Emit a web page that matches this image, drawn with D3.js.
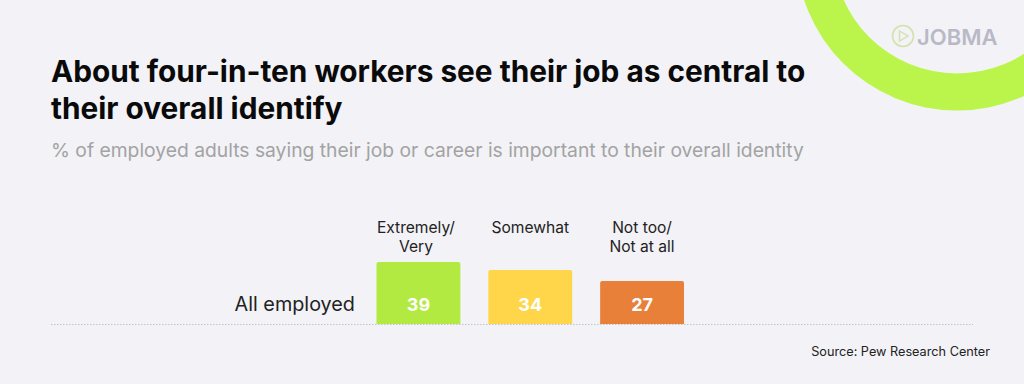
<!DOCTYPE html>
<html>
<head>
<meta charset="utf-8">
<script src="https://cdn.jsdelivr.net/npm/d3@7"></script>
<style>
  html, body { margin: 0; padding: 0; background: #f2f2f7; }
  svg { display: block; }
  text { font-family: Inter, "Noto Sans", sans-serif; }
</style>
</head>
<body>
<svg id="chart" width="1024" height="384"></svg>
<script>
var titleLines = ['About four-in-ten workers see their job as central to', 'their overall identify'];
var subtitle = '% of employed adults saying their job or career is important to their overall identity';
var source = 'Source: Pew Research Center';
var rowLabel = 'All employed';
var categories = ['Extremely/|Very', 'Somewhat', 'Not too/|Not at all'];
var values = [39, 34, 27];
var colors = ['#b2ea41', '#ffd64a', '#e98039'];

var svg = d3.select('#chart');

// ring + logo in the corner
var ring = d3.arc().innerRadius(124).outerRadius(161).startAngle(0).endAngle(2 * Math.PI);
svg.append('path')
  .attr('transform', 'translate(957,-50.5)')
  .attr('d', ring())
  .attr('fill', '#bbf54b');

var logo = svg.append('g').attr('transform', 'translate(903,36)');
logo.append('circle').attr('r', 10.5).attr('fill', 'none').attr('stroke', '#d3e2ab').attr('stroke-width', 1.6);
logo.append('path').attr('d', 'M-3.5,-5 L5,0 L-3.5,5 Z').attr('fill', 'none').attr('stroke', '#d3e2ab').attr('stroke-width', 1.4);
svg.append('text').attr('x', 917).attr('y', 45).attr('font-size', 22).attr('font-weight', 600)
  .attr('fill', '#b9b9c6').text('JOBMA');

// headings
svg.selectAll('.title').data(titleLines).enter().append('text')
  .attr('class', 'title')
  .attr('x', 51)
  .attr('y', function (d, i) { return 81.5 + i * 37.5; })
  .attr('font-size', 29.8)
  .attr('font-weight', 700)
  .attr('fill', '#0a0a0a')
  .text(function (d) { return d; });

svg.append('text').attr('x', 51).attr('y', 157).attr('font-size', 19.3)
  .attr('fill', '#a3a3a3').text(subtitle);

// bars
var baseline = 324;
var x = d3.scaleBand().domain(categories).range([376.5, 684]).paddingInner(0.25).paddingOuter(0);
var y = d3.scaleLinear().domain([0, 39]).range([baseline, 262]);

svg.append('line')
  .attr('x1', 51).attr('x2', 973).attr('y1', baseline + 0.5).attr('y2', baseline + 0.5)
  .attr('stroke', '#c4c4c4').attr('stroke-width', 1).attr('stroke-dasharray', '1.5 1.5');

svg.selectAll('.bar').data(values).enter().append('path')
  .attr('class', 'bar')
  .attr('fill', function (d, i) { return colors[i]; })
  .attr('d', function (d, i) {
    var x0 = x(categories[i]), w = x.bandwidth(), t = y(d), r = 2;
    return 'M' + x0 + ',' + baseline + 'V' + (t + r) + 'Q' + x0 + ',' + t + ' ' + (x0 + r) + ',' + t +
      'H' + (x0 + w - r) + 'Q' + (x0 + w) + ',' + t + ' ' + (x0 + w) + ',' + (t + r) + 'V' + baseline + 'Z';
  });

svg.selectAll('.val').data(values).enter().append('text')
  .attr('class', 'val')
  .attr('x', function (d, i) { return x(categories[i]) + x.bandwidth() / 2; })
  .attr('y', 311)
  .attr('text-anchor', 'middle')
  .attr('font-size', 18)
  .attr('font-weight', 700)
  .attr('fill', '#fff')
  .text(function (d) { return d; });

// category labels, split on |
categories.forEach(function (c, i) {
  c.split('|').forEach(function (line, j) {
    svg.append('text')
      // first label sits a bit left of its bar in the original
      .attr('x', x(c) + x.bandwidth() / 2 - (i === 0 ? 2.5 : 0))
      .attr('y', 233 + j * 19)
      .attr('text-anchor', 'middle')
      .attr('font-size', 15.6)
      .attr('fill', '#222')
      .text(line);
  });
});

svg.append('text').attr('x', 355).attr('y', 311).attr('text-anchor', 'end')
  .attr('font-size', 19.8).attr('fill', '#222').text(rowLabel);

svg.append('text').attr('x', 990).attr('y', 356).attr('text-anchor', 'end')
  .attr('font-size', 12.7).attr('fill', '#222').text(source);
</script>
</body>
</html>
